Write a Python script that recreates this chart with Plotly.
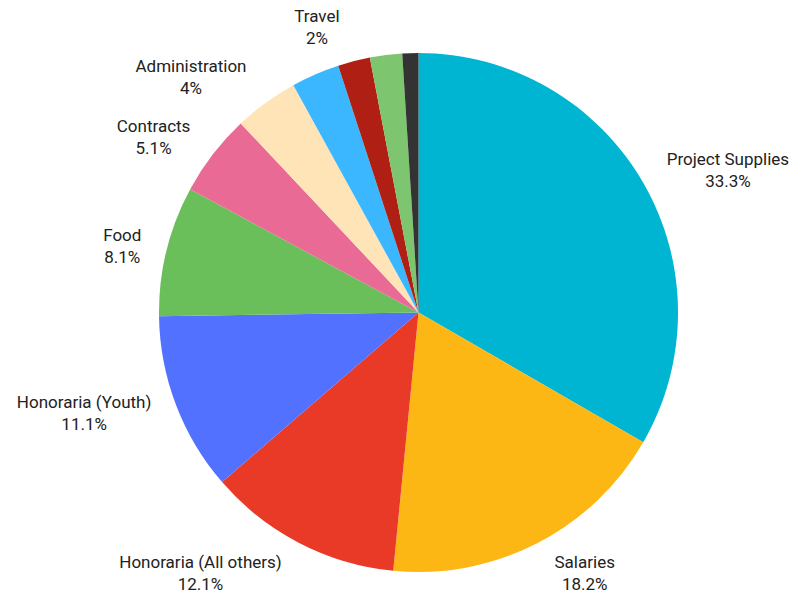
import plotly.graph_objects as go

categories = ["Project Supplies", "Salaries", "Honoraria (All others)", "Honoraria (Youth)",
              "Food", "Contracts", "Administration", "Equipment", "Travel", "Other", "Misc"]
values = [33.3, 18.2, 12.1, 11.1, 8.1, 5.1, 4, 3, 2, 2, 1]
show_label = [True, True, True, True, True, True, True, False, True, False, False]
colors = ["#00B5D2", "#FDB714", "#E83A26", "#5271FF", "#6ABF5B", "#E96A95",
          "#FFE4B8", "#3BB7FF", "#B01F14", "#7DC56E", "#333333"]

texts = [f"{c}<br>{v:g}%" if s else "" for c, v, s in zip(categories, values, show_label)]

# visible pie (slices)
pie = go.Pie(
    labels=categories,
    values=values,
    textinfo="none",
    sort=False,
    direction="clockwise",
    rotation=0,
    marker=dict(colors=colors, line=dict(width=0)),
    showlegend=False,
    automargin=False,
    domain=dict(x=[0, 1], y=[15 / 549, 534 / 549]),
)
# label ring: same slices, transparent, slightly larger to offset the outside labels
label_ring = go.Pie(
    labels=categories,
    values=values,
    text=texts,
    textinfo="text",
    textposition="outside",
    sort=False,
    direction="clockwise",
    rotation=0,
    marker=dict(colors=["rgba(0,0,0,0)"] * len(values), line=dict(width=0)),
    textfont=dict(family="Roboto", size=17, color="#222222"),
    showlegend=False,
    automargin=False,
    hoverinfo="skip",
    domain=dict(x=[0, 1], y=[0, 1]),
)
fig = go.Figure([pie, label_ring])
fig.update_layout(
    width=801, height=597,
    margin=dict(l=91, r=71, t=30, b=18),
    paper_bgcolor="white",
    plot_bgcolor="white",
)
fig.write_html("out.html")
